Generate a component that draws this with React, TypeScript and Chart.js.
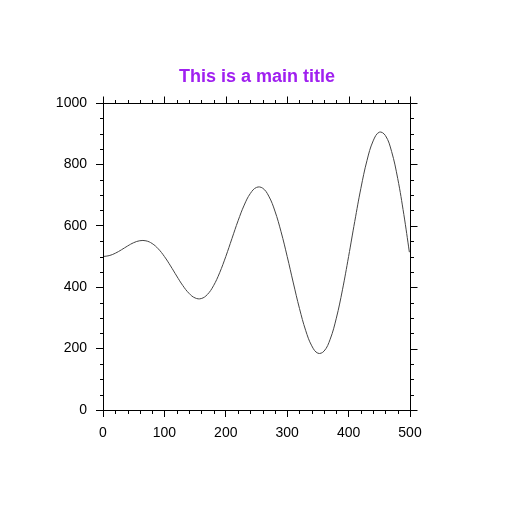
import React, { useEffect, useRef } from "react";
import { Chart, registerables } from "chart.js";

Chart.register(...registerables);

const titleText = "This is a main title";
const xValues = [
  0, 10, 20, 30, 40, 50, 60, 70, 80, 90,
  100, 110, 120, 130, 140, 150, 160, 170, 180, 190,
  200, 210, 220, 230, 240, 250, 260, 270, 280, 290,
  300, 310, 320, 330, 340, 350, 360, 370, 380, 390,
  400, 410, 420, 430, 440, 450, 460, 470, 480, 490, 499,
];
const yValues = [
  500, 502.8, 510.6, 521.8, 534.2, 545, 551.4, 551.0, 542.3, 525.0,
  500, 469.4, 436.5, 405.3, 380.2, 365, 363.0, 376.2, 404.8, 447.2,
  500, 558.4, 616.4, 667.5, 705.4, 725, 722.6, 696.6, 648.1, 580.6,
  500, 413.8, 330.7, 259.7, 209.0, 185, 191.8, 230.6, 299.0, 391.5,
  500, 614.0, 722.2, 813.1, 876.6, 905, 893.8, 842.2, 753.9, 636.3, 514,
];
const xTicks = { min: 0, max: 500, major: 100, minor: 20 };
const yTicks = { min: 0, max: 1000, major: 200, minor: 50 };

const FONT = "'Liberation Sans', Helvetica, Arial, sans-serif";

const boxTicksPlugin = {
  id: "boxTicks",
  afterDraw(chart: any) {
    const { ctx, chartArea } = chart;
    const xs = chart.scales.x;
    const ys = chart.scales.y;
    const L = Math.round(chartArea.left) + 0.5;
    const R = Math.round(chartArea.right) + 0.5;
    const T = Math.round(chartArea.top) + 0.5;
    const B = Math.round(chartArea.bottom) + 0.5;
    ctx.save();
    ctx.strokeStyle = "#000";
    ctx.lineWidth = 1;
    ctx.beginPath();
    ctx.rect(L, T, R - L, B - T);
    ctx.stroke();
    const MAJ = 7;
    const MIN = 3.5;
    ctx.beginPath();
    for (let v = xTicks.min; v <= xTicks.max; v += xTicks.minor) {
      const p = Math.round(xs.getPixelForValue(v)) + 0.5;
      const isMaj = v % xTicks.major === 0;
      const len = isMaj ? MAJ : MIN;
      ctx.moveTo(p, T);
      ctx.lineTo(p, T - len);
      if (!isMaj) {
        ctx.moveTo(p, B);
        ctx.lineTo(p, B + len);
      }
    }
    for (let v = yTicks.min; v <= yTicks.max; v += yTicks.minor) {
      const p = Math.round(ys.getPixelForValue(v)) + 0.5;
      const isMaj = v % yTicks.major === 0;
      const len = isMaj ? MAJ : MIN;
      ctx.moveTo(R, p);
      ctx.lineTo(R + len, p);
      if (!isMaj) {
        ctx.moveTo(L, p);
        ctx.lineTo(L - len, p);
      }
    }
    ctx.stroke();
    ctx.restore();
  },
};

export default function App() {
  const ref = useRef<HTMLCanvasElement | null>(null);
  useEffect(() => {
    if (!ref.current) return;
    const chart = new Chart(ref.current, {
      type: "line",
      data: {
        datasets: [
          {
            data: xValues.map((x, i) => ({ x, y: yValues[i] })),
            borderColor: "#444",
            borderWidth: 1,
            pointRadius: 0,
            tension: 0.4,
            fill: false,
          },
        ],
      },
      options: {
        animation: false,
        responsive: false,
        maintainAspectRatio: false,
        layout: { padding: 0 },
        plugins: {
          legend: { display: false },
          tooltip: { enabled: false },
          title: {
            display: true,
            text: titleText,
            color: "#A020F0",
            font: { family: FONT, size: 18, weight: "bold", lineHeight: 1.2 },
            padding: { top: 66, bottom: 15.4 },
          },
        },
        scales: {
          x: {
            type: "linear",
            position: "bottom",
            min: xTicks.min,
            max: xTicks.max,
            afterFit: (s: any) => {
              s.height = 104;
            },
            ticks: {
              stepSize: xTicks.major,
              color: "#000",
              font: { family: FONT, size: 14 },
              padding: 8,
              maxRotation: 0,
              callback: (v: any) => String(v),
            },
            grid: {
              drawOnChartArea: false,
              drawTicks: true,
              tickLength: 7,
              color: "#000",
            },
            border: { display: true, color: "#000", width: 1 },
          },
          y: {
            type: "linear",
            position: "left",
            min: yTicks.min,
            max: yTicks.max,
            afterFit: (s: any) => {
              s.width = 103;
            },
            ticks: {
              stepSize: yTicks.major,
              color: "#000",
              font: { family: FONT, size: 14 },
              padding: 9,
              callback: (v: any) => String(v),
            },
            grid: {
              drawOnChartArea: false,
              drawTicks: true,
              tickLength: 7,
              color: "#000",
            },
            border: { display: true, color: "#000", width: 1 },
          },
          yRight: {
            type: "linear",
            position: "right",
            min: yTicks.min,
            max: yTicks.max,
            afterFit: (s: any) => {
              s.width = 104;
            },
            ticks: { display: false },
            grid: { display: false, drawTicks: false },
            border: { display: false },
          },
        },
      },
      plugins: [boxTicksPlugin],
    });
    return () => chart.destroy();
  }, []);
  return (
    <div style={{ position: "absolute", left: 0, top: 0, width: 514, height: 514, background: "#fff" }}>
      <canvas ref={ref} width={514} height={514} style={{ width: 514, height: 514 }} />
    </div>
  );
}
